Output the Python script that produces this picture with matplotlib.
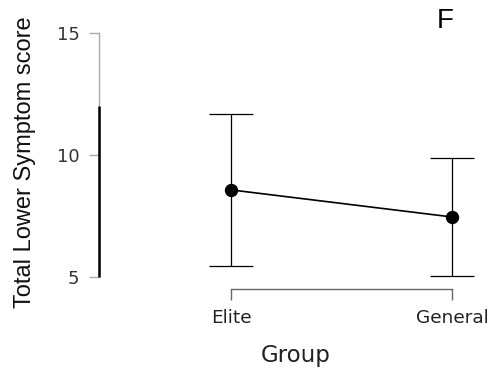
import matplotlib
matplotlib.use("Agg")
import matplotlib.pyplot as plt
import numpy as np

# data
groups = ["Elite", "General"]
means = [8.57, 7.46]
lower = [5.45, 5.04]
upper = [11.67, 9.86]
y_ticks = [5, 10, 15]
dark_span = [5, 12]   # darker segment drawn over the y axis line

x = np.arange(len(groups))
means = np.array(means)
err = [means - np.array(lower), np.array(upper) - means]

fig = plt.figure(figsize=(4.92, 3.71), dpi=100)
ax = fig.add_axes([0.2012, 0.221, 0.7988, 0.725])

ax.errorbar(x, means, yerr=err, fmt="none", ecolor="black",
            elinewidth=0.9, capsize=16, capthick=0.9, zorder=2)
ax.plot(x, means, color="black", linewidth=1.2, zorder=3)
ax.plot(x, means, "o", color="black", markersize=8.6, zorder=4)

ax.set_xlim(-0.597, 1.181)
ax.set_ylim(4.508, 15.53)

for s in ["top", "right"]:
    ax.spines[s].set_visible(False)
ax.spines["left"].set_bounds(min(y_ticks), max(y_ticks))
ax.spines["left"].set_color("#aaaaaa")
ax.spines["left"].set_linewidth(1.0)
ax.spines["bottom"].set_bounds(x[0], x[-1])
ax.spines["bottom"].set_color("#666666")
ax.spines["bottom"].set_linewidth(1.0)

# darker part of the y axis line
ax.plot([0, 0], dark_span, color="black", linewidth=1.8,
        transform=ax.get_yaxis_transform(), clip_on=False, zorder=5,
        solid_capstyle="butt")

ax.set_yticks(y_ticks)
ax.set_xticks(x)
ax.set_xticklabels(groups)
ax.tick_params(axis="y", length=7.5, width=1.0, color="#aaaaaa",
               labelsize=13, labelcolor="#333333", pad=6.5)
ax.tick_params(axis="x", length=8, width=1.0, color="#666666",
               labelsize=13.3, labelcolor="#222222", pad=6.5)
for lab in ax.get_xticklabels() + ax.get_yticklabels():
    lab.set_family("DejaVu Sans")

ax.set_xlabel("Group", fontsize=16.5, family="DejaVu Sans", color="#222222",
              labelpad=12)

fig.text(0.051, 0.563, "Total Lower Symptom score", rotation=90,
         ha="center", va="center", fontsize=17, family="Liberation Sans",
         color="#111111")
fig.text(0.905, 0.944, "F", ha="center", va="center", fontsize=20,
         family="Liberation Sans", color="black")

fig.savefig("out.png", dpi=100)
